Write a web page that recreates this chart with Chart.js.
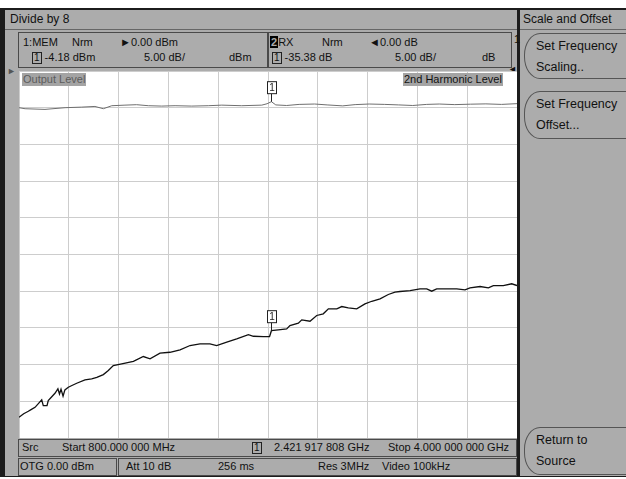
<!DOCTYPE html>
<html>
<head>
<meta charset="utf-8">
<script src="https://cdn.jsdelivr.net/npm/chart.js@4/dist/chart.umd.min.js"></script>
<style>
  body { margin: 0; width: 626px; height: 479px; background: #fff; position: relative; overflow: hidden;
         font-family: "Liberation Sans", Arial, sans-serif; color: #111; }
  .a { position: absolute; white-space: nowrap; }
  .gray { background: #acacac; }
  .box { position: absolute; border: 1px solid #4a4a4a; box-sizing: border-box; }
  .t11 { font-size: 11px; line-height: 13px; }
  .t12 { font-size: 12px; line-height: 14px; }
  .mk { display: inline-block; border: 1px solid #222; padding: 0 1px; line-height: 10px; font-size: 10px; }
  .key { position: absolute; left: 524px; width: 120px; border: 1px solid #555; border-radius: 16px / 22px;
         box-sizing: border-box; font-size: 12.5px; line-height: 21px; padding: 2px 0 0 11px; }
</style>
</head>
<body>
<!-- frame -->
<div class="a" style="left:0;top:8px;width:626px;height:469px;background:#1c1c1c"></div>
<div class="a gray" style="left:5px;top:10px;width:512px;height:466px"></div>
<div class="a gray" style="left:520px;top:10px;width:106px;height:466px"></div>

<!-- title bars -->
<div class="a t12" style="left:10px;top:12px">Divide by 8</div>
<div class="a" style="left:5px;top:29px;width:512px;height:1px;background:#666"></div>
<div class="a t12" style="left:523px;top:12px">Scale and Offset</div>
<div class="a" style="left:520px;top:29px;width:106px;height:1px;background:#666"></div>

<!-- trace headers -->
<div class="box" style="left:18px;top:32px;width:250px;height:36px"></div>
<div class="box" style="left:268px;top:32px;width:244px;height:36px"></div>
<div class="a t11" style="left:23px;top:36px">1:MEM</div>
<div class="a t11" style="left:72px;top:36px">Nrm</div>
<div class="a t11" style="left:120px;top:36px">&#9658;0.00 dBm</div>
<div class="a t11" style="left:32px;top:51px"><span class="mk">1</span> -4.18 dBm</div>
<div class="a t11" style="left:144px;top:51px">5.00 dB/</div>
<div class="a t11" style="left:229px;top:51px">dBm</div>
<div class="a t11" style="left:270px;top:36px"><span style="background:#000;color:#aaa;font-weight:bold;padding:0 1px">2</span>RX</div>
<div class="a t11" style="left:322px;top:36px">Nrm</div>
<div class="a t11" style="left:369px;top:36px">&#9668;0.00 dB</div>
<div class="a t11" style="left:272px;top:51px"><span class="mk">1</span> -35.38 dB</div>
<div class="a t11" style="left:395px;top:51px">5.00 dB/</div>
<div class="a t11" style="left:482px;top:51px">dB</div>
<div class="a t11" style="left:514px;top:33px">1</div>
<div class="a" style="left:7px;top:66px;font-size:9px;color:#555">&#9658;</div>
<div class="a" style="left:508px;top:64px;font-size:9px;color:#111">&#9668;</div>

<!-- plot -->
<div class="a" style="left:19px;top:71px;width:498px;height:367px;background:#fff">
  <canvas id="trace" width="498" height="367"></canvas>
</div>
<div class="a t11" style="left:22px;top:73px;background:#a4a4a4;color:#5c5c5c;padding:0 1px">Output Level</div>
<div class="a t11" style="left:403px;top:73px;background:#a4a4a4;padding:0 1px">2nd Harmonic Level</div>

<!-- bottom annotation -->
<div class="box" style="left:18px;top:439px;width:499px;height:18px"></div>
<div class="a t11" style="left:22px;top:441px">Src</div>
<div class="a t11" style="left:62px;top:441px">Start 800.000 000 MHz</div>
<div class="a t11" style="left:252px;top:441px"><span class="mk">1</span></div>
<div class="a t11" style="left:274px;top:441px">2.421 917 808 GHz</div>
<div class="a t11" style="left:388px;top:441px">Stop 4.000 000 000 GHz</div>
<div class="box" style="left:18px;top:458px;width:99px;height:18px"></div>
<div class="box" style="left:118px;top:458px;width:399px;height:18px"></div>
<div class="a t11" style="left:20px;top:460px">OTG 0.00 dBm</div>
<div class="a t11" style="left:126px;top:460px">Att 10 dB</div>
<div class="a t11" style="left:218px;top:460px">256 ms</div>
<div class="a t11" style="left:318px;top:460px">Res 3MHz</div>
<div class="a t11" style="left:382px;top:460px">Video 100kHz</div>

<!-- softkeys -->
<div class="key" style="top:33px;height:46px">Set Frequency<br>Scaling..</div>
<div class="key" style="top:91px;height:48px">Set Frequency<br>Offset...</div>
<div class="key" style="top:427px;height:48px">Return to<br>Source</div>

<script>
// sweep 800 MHz .. 4000 MHz, 5 dB/div, ref 0 dB at top
const outFreq = [800, 839, 967, 1096, 1203, 1288, 1342, 1396, 1481, 1556, 1631, 1717, 1803, 1910, 2016, 2103, 2231, 2360, 2394, 2422,
                 2450, 2520, 2600, 2700, 2780, 2880, 2960, 3050, 3150, 3240, 3330, 3420, 3500, 3600, 3700, 3800, 3900, 4000];
const outLevel = [-5.00, -5.14, -5.23, -5.00, -4.92, -4.83, -5.14, -4.73, -4.65, -4.59, -4.73, -4.78, -4.73, -4.78, -4.73, -4.65, -4.73, -4.65, -4.46, -4.18,
                  -4.62, -4.70, -4.55, -4.50, -4.62, -4.75, -4.58, -4.50, -4.55, -4.62, -4.70, -4.55, -4.50, -4.58, -4.52, -4.48, -4.55, -4.45];

const harmFreq = [800, 830, 860, 880, 903, 946, 956, 980, 988, 1031, 1050, 1060, 1070, 1083, 1095, 1117, 1140, 1171, 1224, 1267,
                  1300, 1342, 1374, 1406, 1460, 1535, 1599, 1642, 1706, 1770, 1835, 1899, 1963, 2027, 2070, 2135, 2199, 2274, 2306, 2370,
                  2410, 2422, 2466, 2520, 2541, 2595, 2617, 2670, 2713, 2755, 2788, 2842, 2874, 2916, 2970, 3023, 3067, 3120, 3173, 3216,
                  3248, 3313, 3377, 3420, 3452, 3484, 3549, 3613, 3666, 3698, 3763, 3816, 3848, 3912, 3966, 4000];
const harmLevel = [-47.18, -46.70, -46.36, -46.10, -45.82, -44.81, -45.58, -45.58, -44.90, -43.91, -43.30, -44.00, -43.35, -44.30, -43.45, -43.09, -42.85, -42.54, -42.08, -41.94,
                   -41.75, -41.36, -40.81, -40.13, -39.90, -39.55, -38.90, -39.22, -38.45, -38.32, -37.99, -37.40, -37.17, -37.17, -37.40, -36.95, -36.49, -35.91, -36.14, -36.18,
                   -36.18, -35.38, -35.26, -35.13, -34.68, -34.36, -33.90, -34.09, -33.31, -33.08, -32.40, -32.40, -32.09, -32.27, -32.40, -31.72, -31.37, -31.04, -30.45, -30.14,
                   -30.04, -29.91, -29.68, -29.68, -30.00, -29.68, -29.68, -29.68, -29.81, -29.54, -29.36, -29.54, -29.23, -29.23, -28.99, -29.23];

const markerFreq = 2422;
const markerLevels = [-4.18, -35.38];

const markerPlugin = {
    id: 'markers',
    afterDatasetsDraw(chart) {
        const c = chart.ctx;
        const xs = chart.scales.x, ys = chart.scales.y;
        const px = Math.round(xs.getPixelForValue(markerFreq)) - 3.5;
        markerLevels.forEach(lv => {
            const py = ys.getPixelForValue(lv);
            c.save();
            c.strokeStyle = '#222';
            c.lineWidth = 1;
            c.beginPath();
            c.moveTo(px + 4, py);
            c.lineTo(px + 4, py - 8);
            c.stroke();
            c.fillStyle = '#fff';
            c.fillRect(px, py - 20, 9, 12);
            c.strokeRect(px, py - 20, 9, 12);
            c.fillStyle = '#222';
            c.font = '10px "Liberation Sans"';
            c.textAlign = 'center';
            c.textBaseline = 'middle';
            c.fillText('1', px + 4.5, py - 13.5);
            c.restore();
        });
    }
};

const toXY = (xs, ys) => xs.map((f, i) => ({ x: f, y: ys[i] }));

new Chart(document.getElementById('trace').getContext('2d'), {
    type: 'line',
    data: {
        datasets: [{
            data: toXY(outFreq, outLevel),
            borderColor: '#6e6e6e',
            borderWidth: 1,
            pointRadius: 0,
            tension: 0
        }, {
            data: toXY(harmFreq, harmLevel),
            borderColor: '#111',
            borderWidth: 1.3,
            pointRadius: 0,
            tension: 0
        }]
    },
    options: {
        responsive: false,
        animation: false,
        devicePixelRatio: 1,
        layout: { padding: 0 },
        plugins: { legend: { display: false }, tooltip: { enabled: false } },
        scales: {
            x: {
                type: 'linear', min: 800, max: 4000,
                ticks: { display: false, stepSize: 320 },
                grid: { color: '#cdcdcd', drawTicks: false },
                border: { display: false }
            },
            y: {
                min: -50, max: 0,
                ticks: { display: false, stepSize: 5 },
                grid: { color: '#cdcdcd', drawTicks: false },
                border: { display: false }
            }
        }
    },
    plugins: [markerPlugin]
});
</script>
</body>
</html>
